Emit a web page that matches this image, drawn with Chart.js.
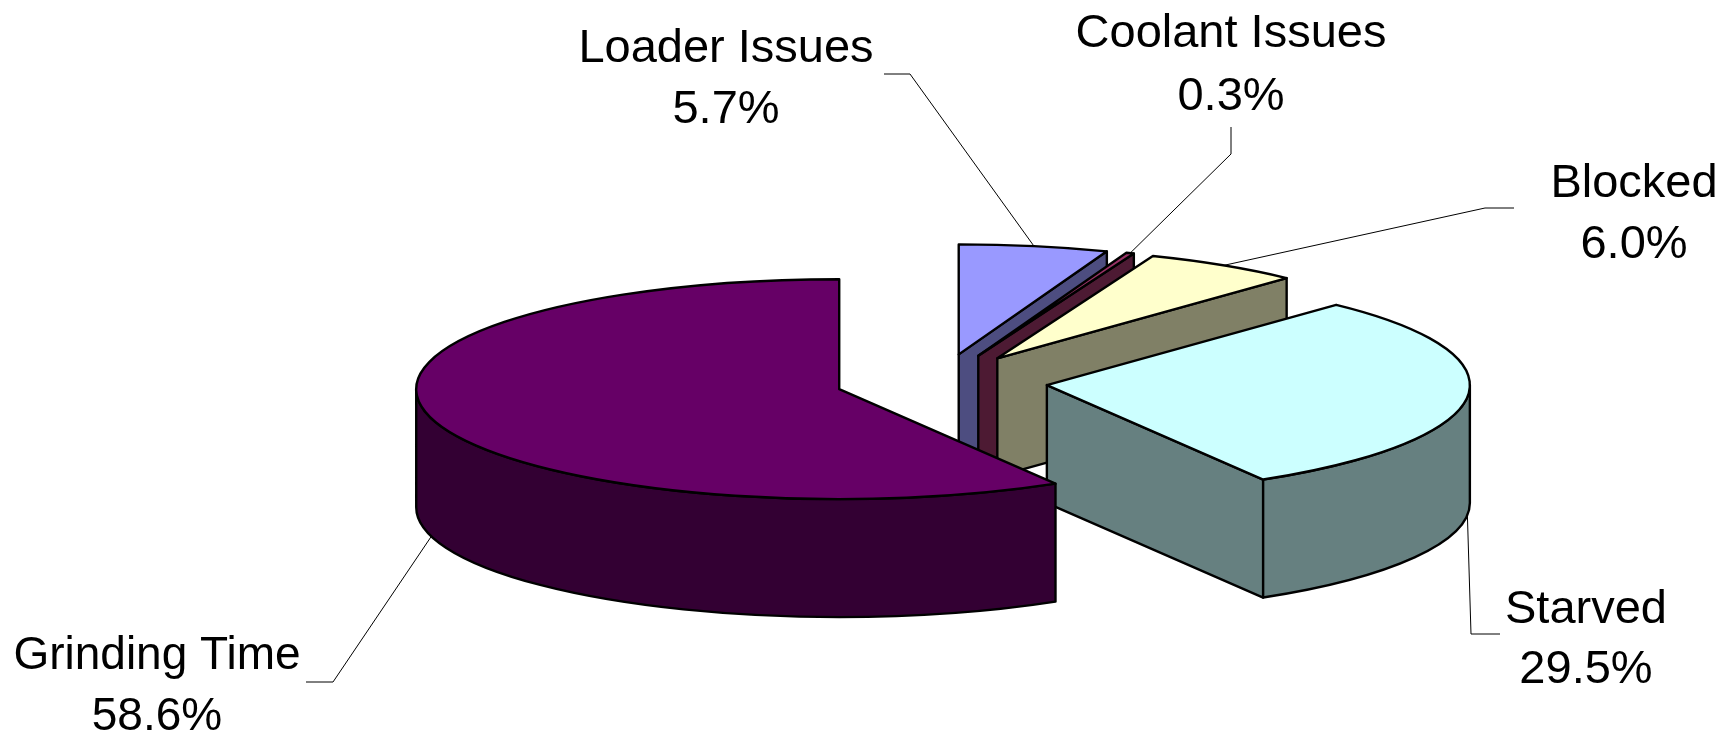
<!DOCTYPE html>
<html>
<head>
<meta charset="utf-8">
<style>
  html, body { margin: 0; padding: 0; background: #ffffff; }
  #wrap { width: 1727px; height: 733px; position: relative; }
</style>
<script src="https://cdn.jsdelivr.net/npm/chart.js@4/dist/chart.umd.min.js"></script>
</head>
<body>
<div id="wrap"><canvas id="pie"></canvas></div>
<script>
// Share of machine time, clockwise from twelve o'clock
const categories = ['Loader Issues', 'Coolant Issues', 'Blocked', 'Starved', 'Grinding Time'];
const shares = [5.7, 0.3, 6.0, 29.5, 58.6];
const shareLabels = ['5.7%', '0.3%', '6.0%', '29.5%', '58.6%'];
const topColors = ['#9999FF', '#993366', '#FFFFCC', '#CCFFFF', '#660066'];
const sideColors = ['#4D4D80', '#4D1A33', '#808066', '#668080', '#330033'];
const explodeBy = [108, 108, 108, 108, 104];

// Tilted disc settings
const PIE_RADIUS = 423;
const TILT = 0.26;
const DEPTH = 118;

// Label centre, the middle of its two lines, and the elbow of each leader line
const labelLayout = [
  { x: 726, y1: 49, y2: 110, size: 47, elbow: [[884, 74], [910, 74]], rimDepth: 0 },
  { x: 1231, y1: 34, y2: 97, size: 47, elbow: [[1231, 127], [1231, 154]], rimDepth: 0 },
  { x: 1634, y1: 184, y2: 245, size: 47, elbow: [[1514, 208], [1485, 208]], rimDepth: 0 },
  { x: 1586, y1: 610, y2: 670, size: 47, elbow: [[1500, 634], [1471, 634]], rimDepth: DEPTH },
  { x: 157, y1: 656, y2: 717, size: 46, elbow: [[306, 682], [333, 682]], rimDepth: DEPTH }
];

function sliceGeometry(arc) {
  const p = arc.getProps(['x', 'y', 'startAngle', 'endAngle', 'outerRadius'], true);
  const mid = (p.startAngle + p.endAngle) / 2;
  const off = arc.options.offset;
  return {
    cx: p.x + Math.cos(mid) * off,
    cy: p.y + Math.sin(mid) * off * TILT,
    r: p.outerRadius,
    a0: p.startAngle,
    a1: p.endAngle,
    mid
  };
}

function rimPoint(g, a, dz) {
  return [g.cx + g.r * Math.cos(a), g.cy + g.r * TILT * Math.sin(a) + dz];
}

function drawRadialFace(ctx, g, a, color) {
  const [x, y] = rimPoint(g, a, 0);
  ctx.beginPath();
  ctx.moveTo(g.cx, g.cy);
  ctx.lineTo(x, y);
  ctx.lineTo(x, y + DEPTH);
  ctx.lineTo(g.cx, g.cy + DEPTH);
  ctx.closePath();
  ctx.fillStyle = color;
  ctx.fill();
  ctx.stroke();
}

function drawFrontRim(ctx, g, color) {
  // The visible part of the outer wall lies between 0 and 180 degrees on screen
  const ranges = [[0, Math.PI], [2 * Math.PI, 3 * Math.PI]];
  ranges.forEach(([lo, hi]) => {
    const from = Math.max(g.a0, lo);
    const to = Math.min(g.a1, hi);
    if (to <= from) return;
    ctx.beginPath();
    ctx.ellipse(g.cx, g.cy, g.r, g.r * TILT, 0, from, to);
    ctx.ellipse(g.cx, g.cy + DEPTH, g.r, g.r * TILT, 0, to, from, true);
    ctx.closePath();
    ctx.fillStyle = color;
    ctx.fill();
    ctx.stroke();
  });
}

const tiltedPie = {
  id: 'tiltedPie',
  beforeDatasetsDraw(chart) {
    const ctx = chart.ctx;
    const arcs = chart.getDatasetMeta(0).data;
    ctx.save();
    ctx.lineJoin = 'round';
    ctx.strokeStyle = '#000000';
    ctx.lineWidth = 2.4;
    // Data order runs back to front, so later slices overlap earlier ones
    arcs.forEach((arc, i) => {
      const g = sliceGeometry(arc);
      if (Math.cos(g.a1) > 0.001) drawRadialFace(ctx, g, g.a1, sideColors[i]);
      if (Math.cos(g.a0) < -0.001) drawRadialFace(ctx, g, g.a0, sideColors[i]);
      drawFrontRim(ctx, g, sideColors[i]);
      ctx.beginPath();
      ctx.moveTo(g.cx, g.cy);
      ctx.ellipse(g.cx, g.cy, g.r, g.r * TILT, 0, g.a0, g.a1);
      ctx.closePath();
      ctx.fillStyle = arc.options.backgroundColor;
      ctx.fill();
      ctx.stroke();
    });
    ctx.restore();
    return false;
  },
  afterDraw(chart) {
    const ctx = chart.ctx;
    const arcs = chart.getDatasetMeta(0).data;
    ctx.save();
    arcs.forEach((arc, i) => {
      const g = sliceGeometry(arc);
      const layout = labelLayout[i];
      const anchor = rimPoint(g, g.mid, layout.rimDepth);
      ctx.beginPath();
      ctx.moveTo(layout.elbow[0][0], layout.elbow[0][1]);
      ctx.lineTo(layout.elbow[1][0], layout.elbow[1][1]);
      ctx.lineTo(anchor[0], anchor[1]);
      ctx.strokeStyle = '#000000';
      ctx.lineWidth = 1;
      ctx.stroke();
      ctx.fillStyle = '#000000';
      ctx.font = layout.size + 'px "Liberation Sans", Arial, sans-serif';
      ctx.textAlign = 'center';
      ctx.textBaseline = 'middle';
      ctx.fillText(categories[i], layout.x, layout.y1);
      ctx.fillText(shareLabels[i], layout.x, layout.y2);
    });
    ctx.restore();
  }
};

new Chart(document.getElementById('pie'), {
  type: 'pie',
  data: {
    labels: categories,
    datasets: [{
      data: shares,
      backgroundColor: topColors,
      borderWidth: 0,
      offset: explodeBy,
      radius: PIE_RADIUS
    }]
  },
  options: {
    responsive: true,
    maintainAspectRatio: false,
    animation: false,
    layout: { padding: { left: 152, top: 31 } },
    plugins: {
      legend: { display: false },
      title: { display: false },
      tooltip: { enabled: false }
    }
  },
  plugins: [tiltedPie]
});
</script>
</body>
</html>
